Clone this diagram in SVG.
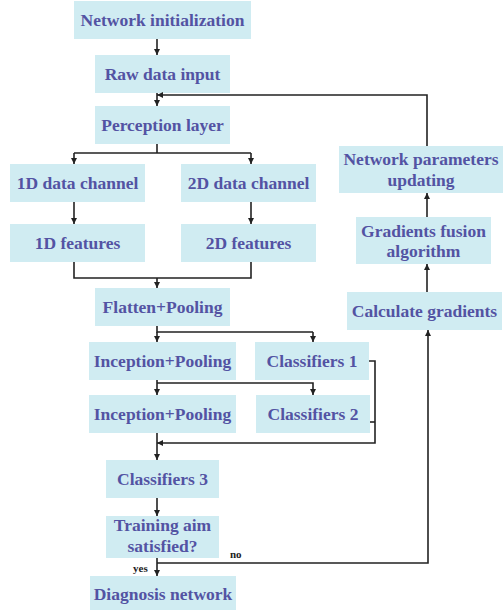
<svg xmlns="http://www.w3.org/2000/svg" width="503" height="610" viewBox="0 0 503 610">
  <style>
    .box { fill: #d0ecf2; }
    .lbl { font-family: "Liberation Serif", "Times New Roman", serif; font-weight: 700; font-size: 17.5px; fill: #5353a3; text-anchor: middle; }
    .small { font-family: "Liberation Serif", "Times New Roman", serif; font-weight: 700; font-size: 11px; fill: #222; }
    .wire { fill: none; stroke: #222; stroke-width: 1.6; }
  </style>
  <defs>
    <marker id="arrow" viewBox="0 0 10 10" refX="10" refY="5" markerWidth="6" markerHeight="7" markerUnits="userSpaceOnUse" orient="auto">
      <path d="M0,0 L10,5 L0,10 z" fill="#222"/>
    </marker>
  </defs>
  <rect width="503" height="610" fill="#fff"/>

  <g id="n-init"><rect class="box" x="74" y="1" width="177" height="38"/><text class="lbl" x="162.5" y="26">Network initialization</text></g>
  <g id="n-raw"><rect class="box" x="95" y="55" width="135" height="38"/><text class="lbl" x="162.5" y="80">Raw data input</text></g>
  <g id="n-perception"><rect class="box" x="95" y="106" width="135" height="38"/><text class="lbl" x="162.5" y="131">Perception layer</text></g>
  <g id="n-1dchan"><rect class="box" x="10" y="164" width="135" height="38"/><text class="lbl" x="77.5" y="189">1D data channel</text></g>
  <g id="n-2dchan"><rect class="box" x="181" y="164" width="135" height="38"/><text class="lbl" x="248.5" y="189">2D data channel</text></g>
  <g id="n-1dfeat"><rect class="box" x="10" y="224" width="135" height="38"/><text class="lbl" x="77.5" y="249">1D features</text></g>
  <g id="n-2dfeat"><rect class="box" x="181" y="224" width="135" height="38"/><text class="lbl" x="248.5" y="249">2D features</text></g>
  <g id="n-flatten"><rect class="box" x="95" y="288" width="135" height="38"/><text class="lbl" x="162.5" y="313">Flatten+Pooling</text></g>
  <g id="n-incep1"><rect class="box" x="89" y="342" width="147" height="38"/><text class="lbl" x="162.5" y="367">Inception+Pooling</text></g>
  <g id="n-cls1"><rect class="box" x="255" y="342" width="114" height="38"/><text class="lbl" x="312" y="367">Classifiers 1</text></g>
  <g id="n-incep2"><rect class="box" x="89" y="395" width="147" height="38"/><text class="lbl" x="162.5" y="420">Inception+Pooling</text></g>
  <g id="n-cls2"><rect class="box" x="256" y="395" width="114" height="38"/><text class="lbl" x="313" y="420">Classifiers 2</text></g>
  <g id="n-cls3"><rect class="box" x="106" y="460" width="113" height="38"/><text class="lbl" x="162.5" y="485">Classifiers 3</text></g>
  <g id="n-aim"><rect class="box" x="106" y="516" width="113" height="42"/><text class="lbl" x="162.5" y="531">Training aim</text><text class="lbl" x="162.5" y="552">satisfied?</text></g>
  <g id="n-diag"><rect class="box" x="90" y="576" width="146" height="34"/><text class="lbl" x="163" y="600">Diagnosis network</text></g>
  <g id="n-update"><rect class="box" x="339" y="146" width="164" height="47"/><text class="lbl" x="421" y="165">Network parameters</text><text class="lbl" x="421" y="186">updating</text></g>
  <g id="n-fusion"><rect class="box" x="356" y="217" width="135" height="47"/><text class="lbl" x="423.5" y="237">Gradients fusion</text><text class="lbl" x="423.5" y="257">algorithm</text></g>
  <g id="n-grad"><rect class="box" x="347" y="292" width="155" height="38"/><text class="lbl" x="424.5" y="317">Calculate gradients</text></g>

  <g id="connectors">
    <path class="wire" d="M157,39 V55" marker-end="url(#arrow)"/>
    <path class="wire" d="M157,93 V106" marker-end="url(#arrow)"/>
    <path class="wire" d="M157,144 V153"/>
    <path class="wire" d="M74,153 H251"/>
    <path class="wire" d="M74,153 V164" marker-end="url(#arrow)"/>
    <path class="wire" d="M251,153 V164" marker-end="url(#arrow)"/>
    <path class="wire" d="M74,202 V224" marker-end="url(#arrow)"/>
    <path class="wire" d="M251,202 V224" marker-end="url(#arrow)"/>
    <path class="wire" d="M74,262 V278 H251 V262"/>
    <path class="wire" d="M157,278 V288" marker-end="url(#arrow)"/>
    <path class="wire" d="M157,326 V332 H313"/>
    <path class="wire" d="M157,332 V342" marker-end="url(#arrow)"/>
    <path class="wire" d="M313,332 V342" marker-end="url(#arrow)"/>
    <path class="wire" d="M157,380 V395" marker-end="url(#arrow)"/>
    <path class="wire" d="M157,383 H313 V395" marker-end="url(#arrow)"/>
    <path class="wire" d="M369,361 H375 V443 H157" marker-end="url(#arrow)"/>
    <path class="wire" d="M370,422 H375"/>
    <path class="wire" d="M157,433 V460" marker-end="url(#arrow)"/>
    <path class="wire" d="M157,498 V516" marker-end="url(#arrow)"/>
    <path class="wire" d="M157,558 V576" marker-end="url(#arrow)"/>
    <path class="wire" d="M157,563 H428 V330" marker-end="url(#arrow)"/>
    <path class="wire" d="M427,292 V264" marker-end="url(#arrow)"/>
    <path class="wire" d="M427,217 V193" marker-end="url(#arrow)"/>
    <path class="wire" d="M427,146 V95 H157" marker-end="url(#arrow)"/>
    <text class="small" x="230" y="558">no</text>
    <text class="small" x="133" y="572">yes</text>
  </g>
</svg>
